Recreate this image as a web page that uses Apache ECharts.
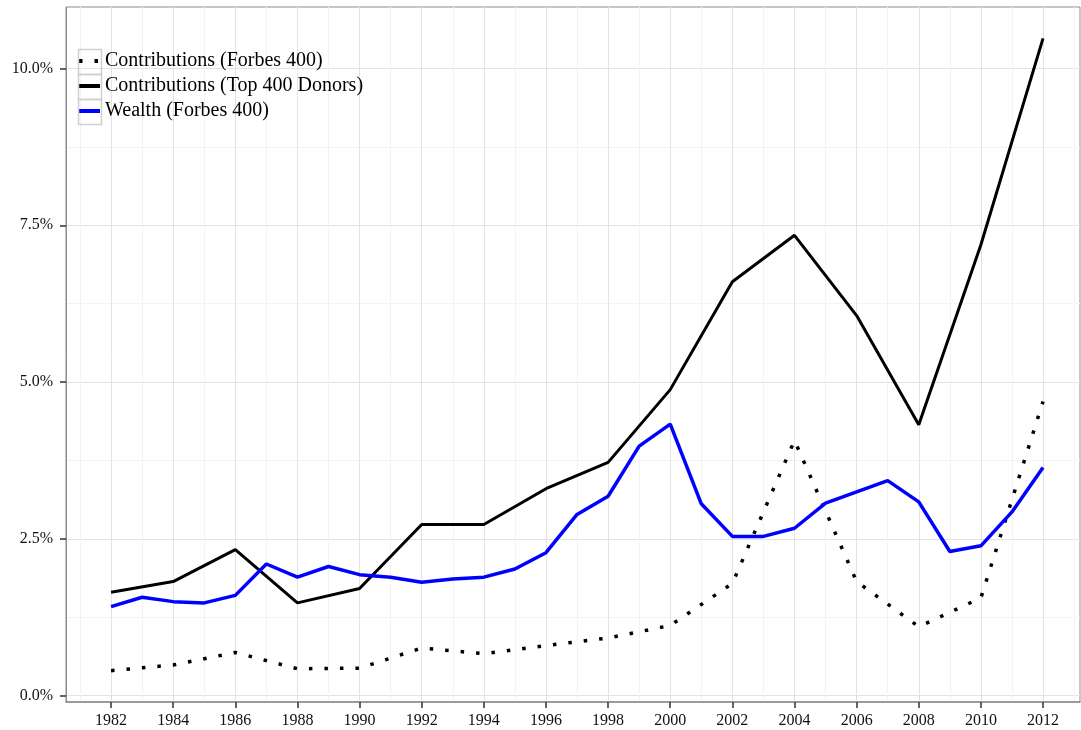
<!DOCTYPE html>
<html lang="en">
<head>
    <meta charset="utf-8"/>
    <title>Contributions and wealth shares</title>
    <script src="https://cdn.jsdelivr.net/npm/echarts@6/dist/echarts.min.js"></script>
    <style>
        body { margin: 0; background: #fff; }
        #main { width: 1081px; height: 730px; }
    </style>
</head>
<body>
<div id="main"></div>
<script>
    // years
    var years = [1982, 1983, 1984, 1985, 1986, 1987, 1988, 1989, 1990, 1991, 1992, 1993, 1994, 1995, 1996,
        1997, 1998, 1999, 2000, 2001, 2002, 2003, 2004, 2005, 2006, 2007, 2008, 2009, 2010, 2011, 2012];
    var cycles = [1982, 1984, 1986, 1988, 1990, 1992, 1994, 1996, 1998, 2000, 2002, 2004, 2006, 2008, 2010, 2012];

    // values in percent
    var wealthForbes = [1.42, 1.57, 1.50, 1.48, 1.60, 2.10, 1.89, 2.06, 1.93, 1.89, 1.81, 1.86, 1.89, 2.02, 2.28,
        2.89, 3.18, 3.98, 4.33, 3.06, 2.54, 2.54, 2.67, 3.07, 3.25, 3.43, 3.09, 2.30, 2.39, 2.93, 3.64];
    var contribForbes = [0.40, 0.49, 0.69, 0.43, 0.44, 0.76, 0.67, 0.80, 0.92, 1.12, 1.79, 4.07, 1.82, 1.10, 1.56, 4.69];
    var contribTop400 = [1.65, 1.82, 2.33, 1.48, 1.71, 2.73, 2.73, 3.30, 3.72, 4.88, 6.60, 7.34, 6.06, 4.32, 7.19, 10.48];

    // ticks
    var xTicks = [1982, 1984, 1986, 1988, 1990, 1992, 1994, 1996, 1998, 2000, 2002, 2004, 2006, 2008, 2010, 2012];
    var xMinor = [1981, 1983, 1985, 1987, 1989, 1991, 1993, 1995, 1997, 1999, 2001, 2003, 2005, 2007, 2009, 2011, 2013];
    var yTicks = [0, 2.5, 5, 7.5, 10];
    var yMinor = [1.25, 3.75, 6.25, 8.75];

    var names = ['Contributions (Forbes 400)', 'Contributions (Top 400 Donors)', 'Wealth (Forbes 400)'];

    function pairs(xs, ys) {
        var out = [];
        for (var i = 0; i < xs.length; i++) {
            out.push([xs[i], ys[i]]);
        }
        return out;
    }

    var serif = 'Liberation Serif';
    var xMin = 1980.55, xMax = 2013.19, yMin = -0.1, yMax = 10.98;

    var myChart = echarts.init(document.getElementById('main'));

    // legend key boxes
    var keyBox = function (top) {
        return {
            type: 'rect', left: 76, top: top, shape: {width: 23, height: 25},
            style: {fill: 'none', stroke: '#cfcfcf', lineWidth: 1.5}, z: 100
        };
    };

    var option = {
        animation: false,
        backgroundColor: '#fff',
        grid: {left: 66, right: 1, top: 7, bottom: 28, show: true, borderColor: '#8c8c8c', borderWidth: 1},
        legend: {
            orient: 'vertical',
            left: 77, top: 51, padding: 0,
            itemWidth: 21, itemHeight: 20, itemGap: 5,
            data: names,
            itemStyle: {opacity: 0},
            lineStyle: {width: 4},
            textStyle: {fontFamily: serif, fontSize: 20, color: '#000'}
        },
        graphic: [keyBox(47), keyBox(72), keyBox(97)],
        xAxis: [{
            type: 'value', min: xMin, max: xMax,
            axisLine: {onZero: false, lineStyle: {color: '#8c8c8c', width: 1.5}},
            axisTick: {customValues: xTicks, length: 6, lineStyle: {color: '#333', width: 1.5}},
            axisLabel: {
                customValues: xTicks, fontFamily: serif, fontSize: 16, color: '#111', margin: 11,
                formatter: function (v) { return String(v); }
            },
            splitLine: {show: true, lineStyle: {color: '#e3e3e3', width: 1}}
        }, {
            type: 'value', min: xMin, max: xMax, position: 'bottom',
            axisLine: {show: false},
            axisTick: {show: false, customValues: xMinor},
            axisLabel: {show: false, customValues: xMinor},
            splitLine: {show: true, lineStyle: {color: '#f3f3f3', width: 1}}
        }],
        yAxis: [{
            type: 'value', min: yMin, max: yMax,
            axisLine: {show: true, lineStyle: {color: '#8c8c8c', width: 1}},
            axisTick: {show: true, customValues: yTicks, length: 6, lineStyle: {color: '#333', width: 1.5}},
            axisLabel: {
                customValues: yTicks, fontFamily: serif, fontSize: 16, color: '#111', margin: 13,
                formatter: function (v) { return v.toFixed(1) + '%'; }
            },
            splitLine: {show: true, lineStyle: {color: '#e3e3e3', width: 1}}
        }, {
            type: 'value', min: yMin, max: yMax, position: 'left',
            axisLine: {show: false},
            axisTick: {show: false, customValues: yMinor},
            axisLabel: {show: false, customValues: yMinor},
            splitLine: {show: true, lineStyle: {color: '#f3f3f3', width: 1}}
        }],
        series: [{
            name: names[0], type: 'line', symbol: 'none',
            data: pairs(cycles, contribForbes),
            lineStyle: {color: '#000', width: 3.5, type: [3.5, 12], cap: 'butt'},
            itemStyle: {color: '#000'}, z: 3
        }, {
            name: names[1], type: 'line', symbol: 'none',
            data: pairs(cycles, contribTop400),
            lineStyle: {color: '#000', width: 3},
            itemStyle: {color: '#000'}, z: 3
        }, {
            name: names[2], type: 'line', symbol: 'none',
            data: pairs(years, wealthForbes),
            lineStyle: {color: '#0000ff', width: 3.5},
            itemStyle: {color: '#0000ff'}, z: 3
        }]
    };

    myChart.setOption(option);
</script>
</body>
</html>
